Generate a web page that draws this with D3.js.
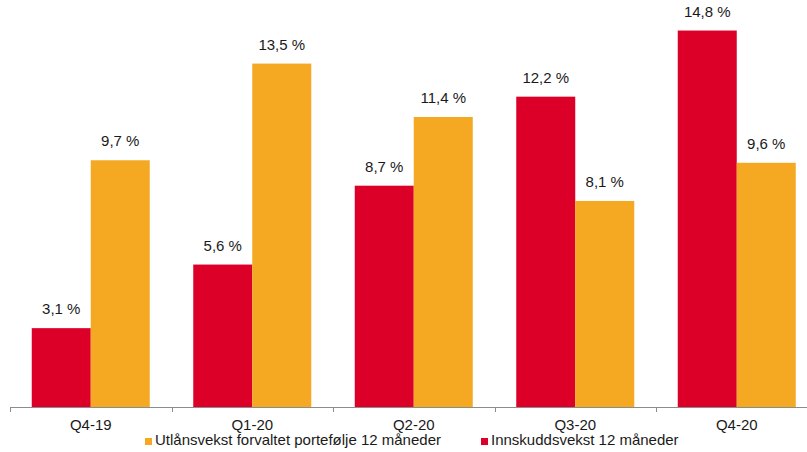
<!DOCTYPE html>
<html>
<head>
<meta charset="utf-8">
<script src="https://cdn.jsdelivr.net/npm/d3@7"></script>
<style>
  html, body { margin: 0; padding: 0; background: #fff; }
  svg { display: block; font-family: "Liberation Sans", Arial, sans-serif; }
</style>
</head>
<body>
<svg id="chart" width="807" height="452"></svg>
<script>
// Quarterly growth, 12 months rolling (%)
const quarters = ["Q4-19", "Q1-20", "Q2-20", "Q3-20", "Q4-20"];
const seriesNames = ["Innskuddsvekst 12 måneder", "Utlånsvekst forvaltet portefølje 12 måneder"];
const innskudd = [3.1, 5.6, 8.7, 12.2, 14.8];
const utlaan = [9.7, 13.5, 11.4, 8.1, 9.6];
const seriesColors = ["#DC0029", "#F5A822"];
const legendOrder = [1, 0];

const svg = d3.select("#chart");
const baseY = 407;

const x0 = d3.scaleBand().domain(quarters).range([10, 817.5]).padding(0);
const x1 = d3.scaleBand().domain(seriesNames)
  .range([(x0.bandwidth() - 118) / 2, (x0.bandwidth() + 118) / 2]);
const y = d3.scaleLinear().domain([0, 16]).range([baseY, 0]);

const values = [innskudd, utlaan];
const fmt = v => d3.format(".1f")(v).replace(".", ",") + " %";

const groups = svg.append("g").selectAll("g")
  .data(quarters)
  .join("g")
  .attr("transform", d => `translate(${x0(d)},0)`);

groups.selectAll("rect")
  .data((d, i) => seriesNames.map((s, k) => ({ s, k, v: values[k][i] })))
  .join("rect")
  .attr("x", d => x1(d.s))
  .attr("width", x1.bandwidth())
  .attr("y", d => y(d.v))
  .attr("height", d => baseY - y(d.v))
  .attr("fill", d => seriesColors[d.k]);

groups.selectAll("text.val")
  .data((d, i) => seriesNames.map((s, k) => ({ s, k, v: values[k][i] })))
  .join("text")
  .attr("class", "val")
  .attr("x", d => x1(d.s) + x1.bandwidth() / 2)
  .attr("y", d => y(d.v) - 14)
  .attr("text-anchor", "middle")
  .attr("font-size", 15)
  .attr("fill", "#1a1a1a")
  .text(d => fmt(d.v));

// Category axis
const axis = svg.append("g");
axis.append("line")
  .attr("x1", 10).attr("x2", 817.5)
  .attr("y1", baseY + 0.5).attr("y2", baseY + 0.5)
  .attr("stroke", "#8c8c8c").attr("stroke-width", 1);
const tickPos = quarters.map(q => x0(q)).concat([x0.range()[1]]);
axis.selectAll("line.tick")
  .data(tickPos)
  .join("line")
  .attr("class", "tick")
  .attr("x1", d => Math.round(d) + 0.5).attr("x2", d => Math.round(d) + 0.5)
  .attr("y1", baseY).attr("y2", baseY + 5)
  .attr("stroke", "#8c8c8c");
axis.selectAll("text")
  .data(quarters)
  .join("text")
  .attr("x", d => x0(d) + x0.bandwidth() / 2)
  .attr("y", 430)
  .attr("text-anchor", "middle")
  .attr("font-size", 15)
  .attr("fill", "#1a1a1a")
  .text(d => d);

// Legend
const legendX = [145, 481];
const legend = svg.append("g").selectAll("g")
  .data(legendOrder)
  .join("g")
  .attr("transform", (k, i) => `translate(${legendX[i]},0)`);
legend.append("rect")
  .attr("x", 0).attr("y", 438)
  .attr("width", 7).attr("height", 7)
  .attr("fill", k => seriesColors[k]);
legend.append("text")
  .attr("x", 10).attr("y", 445)
  .attr("font-size", 15)
  .attr("fill", "#1a1a1a")
  .text(k => seriesNames[k]);
</script>
</body>
</html>
